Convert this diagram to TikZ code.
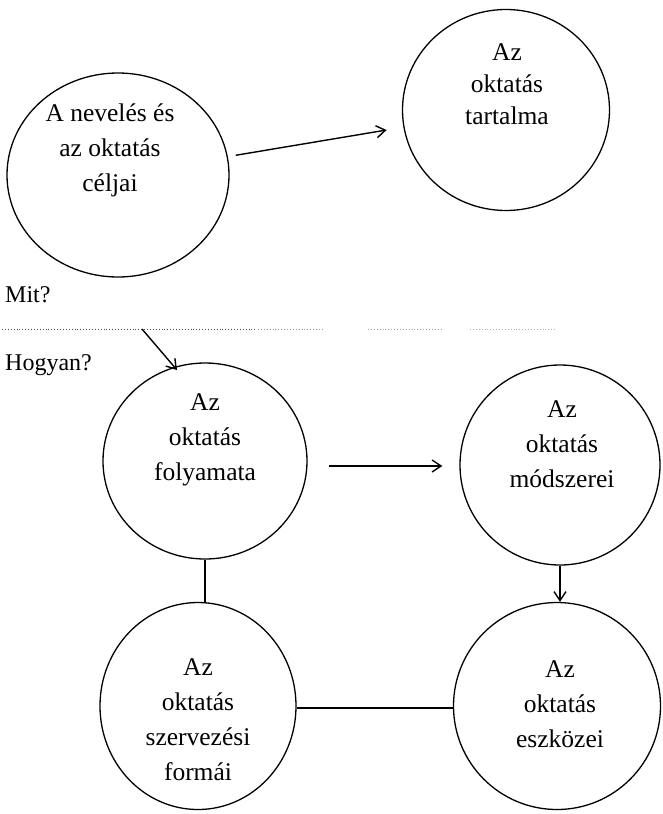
\documentclass[tikz,border=0pt]{standalone}
\usepackage{fontspec}
\setmainfont{Liberation Serif}
\usetikzlibrary{arrows.meta,shapes.geometric,calc}
\begin{document}
\begin{tikzpicture}[x=1pt,y=-1pt,
  bubble/.style={ellipse,draw,line width=1.3pt,inner sep=0pt},
  lbl/.style={align=center,font=\fontsize{25.5}{35}\selectfont,inner sep=0pt},
  side/.style={anchor=west,font=\fontsize{24}{28}\selectfont,inner sep=0pt},
  arr/.style={line width=1.4pt,-{Straight Barb[length=9pt,width=12pt,line width=1.4pt]}},
  ln/.style={line width=1.3pt},
  divider/.style={dotted,line width=0.9pt}]
\useasboundingbox (0,0) rectangle (663,814);
\fill[white] (0,0) rectangle (663,814);

% circles
\node[bubble,minimum width=222pt,minimum height=204pt] (c1) at (118,175) {};
\node[bubble,minimum width=207pt,minimum height=201pt] (c2) at (506,110) {};
\node[bubble,minimum width=204pt,minimum height=196pt] (c3) at (205,461) {};
\node[bubble,minimum width=200pt,minimum height=200pt] (c4) at (560,465) {};
\node[bubble,minimum width=196pt,minimum height=207pt] (c5) at (198,706) {};
\node[bubble,minimum width=207pt,minimum height=207pt] (c6) at (557,706) {};

% texts
\node[lbl] (t1) at (110,150) {A nevelés és\\az oktatás\\céljai};
\node[lbl,font=\fontsize{25.5}{32}\selectfont] (t2) at (507,84) {Az\\oktatás\\tartalma};
\node[lbl] (t3) at (205,440) {Az\\oktatás\\folyamata};
\node[lbl] (t4) at (562,444) {Az\\oktatás\\módszerei};
\node[lbl] (t5) at (198,720) {Az\\oktatás\\szervezési\\formái};
\node[lbl] (t6) at (560,704) {Az\\oktatás\\eszközei};

\node[side] (mit) at (5,295) {Mit?};
\node[side] (hogyan) at (5,365) {Hogyan?};

% divider
\draw[divider,black!70] (2,329) -- (255,329);
\draw[divider,black!40] (258,329) -- (322,329);
\draw[divider,black!35] (368,329) -- (442,329);
\draw[divider,black!30] (470,329) -- (555,329);

% connectors
\draw[arr,shorten <=8pt,shorten >=17pt] (c1) -- (c2);
\coordinate (hs) at (142,329);
\coordinate (ht) at (177,370);
\draw[arr] (hs) -- (ht);
\draw[arr,shorten <=21pt,shorten >=17pt] ([yshift=-5pt]c3.east) -- ([yshift=-1pt]c4.west);
\draw[arr] (c4.south) -- (c4.south |- c6.north);
\draw[ln] (c3.south) -- (c3.south |- c5.north);
\draw[ln] ([yshift=-2pt]c5.east) -- ([yshift=-2pt]c6.west);
\end{tikzpicture}
\end{document}
